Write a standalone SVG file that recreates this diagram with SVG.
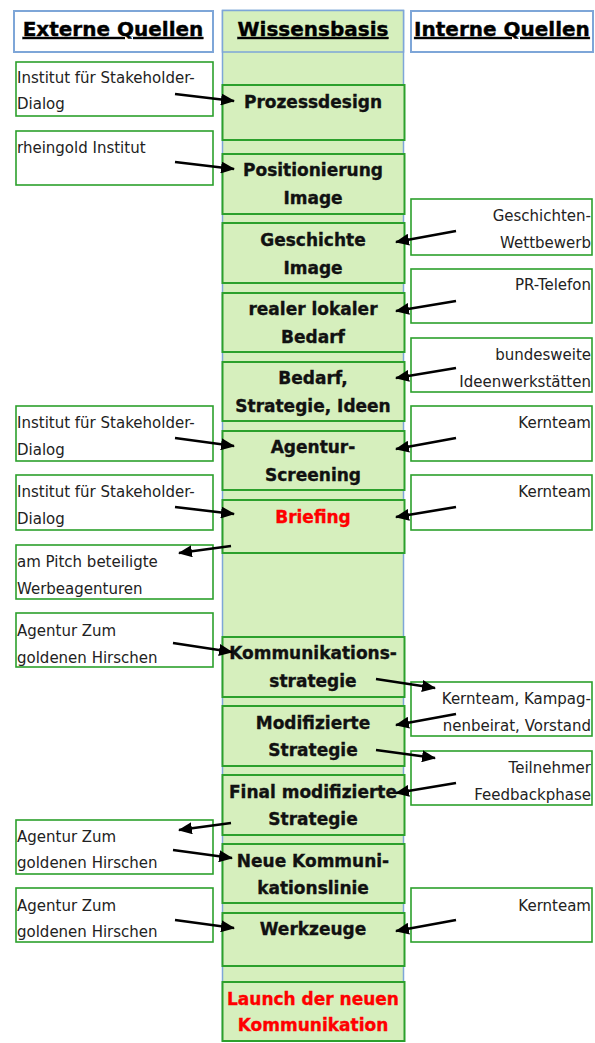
<svg xmlns="http://www.w3.org/2000/svg" width="595" height="1043" viewBox="0 0 595 1043">
<defs>
<style>
.hdr{fill:#fff;stroke:#7ea6d8;stroke-width:2}
.col{fill:#d6efbd;stroke:#7ea6d8;stroke-width:1.5}
.node{fill:#d6efbd;stroke:#2ca02c;stroke-width:2}
.src{fill:#fff;stroke:#2ca02c;stroke-width:1.6}
.ht{font-family:"DejaVu Sans",sans-serif;font-weight:bold;font-size:20px;fill:#000;stroke:#000;stroke-width:0.4;text-anchor:middle;text-decoration:underline}
.nt{font-family:"DejaVu Sans",sans-serif;font-weight:bold;font-size:17px;fill:#111;stroke:#111;stroke-width:0.35;text-anchor:middle}
.nt.red{fill:#ff0000;stroke:#ff0000}
.lt{font-family:"DejaVu Sans",sans-serif;font-size:15px;fill:#222}
.rt{font-family:"DejaVu Sans",sans-serif;font-size:15px;fill:#222;text-anchor:end}
.ar{stroke:#000;stroke-width:2.6;fill:none;marker-end:url(#ah)}
</style>
<marker id="ah" markerWidth="14" markerHeight="12" refX="13" refY="6" orient="auto" markerUnits="userSpaceOnUse">
<path d="M0,0 L14,6 L0,12 z" fill="#000"/>
</marker>
</defs>

<g id="column">
<rect class="col" x="222.5" y="10.5" width="181" height="1030"/>
</g>

<g id="header-extern"><rect class="hdr" x="14" y="11" width="199" height="41"/><text class="ht" x="113" y="36">Externe Quellen</text></g>
<g id="header-wissen"><rect class="col" x="222.5" y="10.5" width="181" height="41.5"/><text class="ht" x="313" y="36">Wissensbasis</text></g>
<g id="header-intern"><rect class="hdr" x="411" y="11" width="182" height="41"/><text class="ht" x="502" y="36">Interne Quellen</text></g>

<g id="n-prozessdesign"><rect class="node" x="222.5" y="85" width="182" height="55"/><text class="nt" x="313" y="108">Prozessdesign</text></g>
<g id="n-positionierung"><rect class="node" x="222.5" y="154" width="182" height="60"/><text class="nt" x="313" y="176">Positionierung</text><text class="nt" x="313" y="204">Image</text></g>
<g id="n-geschichte"><rect class="node" x="222.5" y="223" width="182" height="60"/><text class="nt" x="313" y="246">Geschichte</text><text class="nt" x="313" y="274">Image</text></g>
<g id="n-realer"><rect class="node" x="222.5" y="293" width="182" height="59"/><text class="nt" x="313" y="315">realer lokaler</text><text class="nt" x="313" y="343">Bedarf</text></g>
<g id="n-bedarf"><rect class="node" x="222.5" y="362" width="182" height="59"/><text class="nt" x="313" y="384">Bedarf,</text><text class="nt" x="313" y="412">Strategie, Ideen</text></g>
<g id="n-agentur"><rect class="node" x="222.5" y="431" width="182" height="59"/><text class="nt" x="313" y="453">Agentur-</text><text class="nt" x="313" y="481">Screening</text></g>
<g id="n-briefing"><rect class="node" x="222.5" y="500" width="182" height="53"/><text class="nt red" x="313" y="523">Briefing</text></g>
<g id="n-kommstrat"><rect class="node" x="222.5" y="637" width="182" height="60"/><text class="nt" x="313" y="659">Kommunikations-</text><text class="nt" x="313" y="687">strategie</text></g>
<g id="n-modstrat"><rect class="node" x="222.5" y="706" width="182" height="60"/><text class="nt" x="313" y="729">Modifizierte</text><text class="nt" x="313" y="756">Strategie</text></g>
<g id="n-finalstrat"><rect class="node" x="222.5" y="775" width="182" height="60"/><text class="nt" x="313" y="798">Final modifizierte</text><text class="nt" x="313" y="825">Strategie</text></g>
<g id="n-neue"><rect class="node" x="222.5" y="844" width="182" height="59"/><text class="nt" x="313" y="867">Neue Kommuni-</text><text class="nt" x="313" y="894">kationslinie</text></g>
<g id="n-werkzeuge"><rect class="node" x="222.5" y="913" width="182" height="53"/><text class="nt" x="313" y="935">Werkzeuge</text></g>
<g id="n-launch"><rect class="node" x="222.5" y="982" width="182" height="59"/><text class="nt red" x="313" y="1005">Launch der neuen</text><text class="nt red" x="313" y="1031">Kommunikation</text></g>

<g id="l1"><rect class="src" x="16" y="62" width="197" height="54"/><text class="lt" x="17" y="83">Institut für Stakeholder-</text><text class="lt" x="17" y="109">Dialog</text></g>
<g id="l2"><rect class="src" x="16" y="131" width="197" height="54"/><text class="lt" x="17" y="153">rheingold Institut</text></g>
<g id="l3"><rect class="src" x="16" y="406" width="197" height="55"/><text class="lt" x="17" y="428">Institut für Stakeholder-</text><text class="lt" x="17" y="455">Dialog</text></g>
<g id="l4"><rect class="src" x="16" y="475" width="197" height="55"/><text class="lt" x="17" y="497">Institut für Stakeholder-</text><text class="lt" x="17" y="524">Dialog</text></g>
<g id="l5"><rect class="src" x="16" y="545" width="197" height="54"/><text class="lt" x="17" y="567">am Pitch beteiligte</text><text class="lt" x="17" y="594">Werbeagenturen</text></g>
<g id="l6"><rect class="src" x="16" y="613" width="197" height="54"/><text class="lt" x="17" y="636">Agentur Zum</text><text class="lt" x="17" y="663">goldenen Hirschen</text></g>
<g id="l7"><rect class="src" x="16" y="820" width="197" height="54"/><text class="lt" x="17" y="842">Agentur Zum</text><text class="lt" x="17" y="868">goldenen Hirschen</text></g>
<g id="l8"><rect class="src" x="16" y="888" width="197" height="54"/><text class="lt" x="17" y="911">Agentur Zum</text><text class="lt" x="17" y="937">goldenen Hirschen</text></g>

<g id="r1"><rect class="src" x="411" y="199" width="181" height="56"/><text class="rt" x="591" y="221">Geschichten-</text><text class="rt" x="591" y="248">Wettbewerb</text></g>
<g id="r2"><rect class="src" x="411" y="269" width="181" height="54"/><text class="rt" x="591" y="290">PR-Telefon</text></g>
<g id="r3"><rect class="src" x="411" y="338" width="181" height="54"/><text class="rt" x="591" y="360">bundesweite</text><text class="rt" x="591" y="387">Ideenwerkstätten</text></g>
<g id="r4"><rect class="src" x="411" y="406" width="181" height="55"/><text class="rt" x="591" y="428">Kernteam</text></g>
<g id="r5"><rect class="src" x="411" y="475" width="181" height="55"/><text class="rt" x="591" y="497">Kernteam</text></g>
<g id="r6"><rect class="src" x="411" y="682" width="181" height="54"/><text class="rt" x="591" y="704">Kernteam, Kampag-</text><text class="rt" x="591" y="731">nenbeirat, Vorstand</text></g>
<g id="r7"><rect class="src" x="411" y="751" width="181" height="54"/><text class="rt" x="591" y="773">Teilnehmer</text><text class="rt" x="591" y="800">Feedbackphase</text></g>
<g id="r8"><rect class="src" x="411" y="888" width="181" height="54"/><text class="rt" x="591" y="911">Kernteam</text></g>

<g id="connectors">
<line class="ar" x1="175" y1="94" x2="234" y2="101"/>
<line class="ar" x1="175" y1="162" x2="234" y2="169"/>
<line class="ar" x1="456" y1="231" x2="396" y2="242"/>
<line class="ar" x1="456" y1="301" x2="396" y2="311"/>
<line class="ar" x1="456" y1="368" x2="396" y2="378"/>
<line class="ar" x1="175" y1="438" x2="234" y2="446"/>
<line class="ar" x1="456" y1="438" x2="396" y2="449"/>
<line class="ar" x1="175" y1="507" x2="234" y2="514"/>
<line class="ar" x1="456" y1="507" x2="396" y2="517"/>
<line class="ar" x1="231" y1="546" x2="179" y2="553"/>
<line class="ar" x1="173" y1="643" x2="232" y2="652"/>
<line class="ar" x1="376" y1="679" x2="435" y2="688"/>
<line class="ar" x1="456" y1="714" x2="396" y2="725"/>
<line class="ar" x1="376" y1="750" x2="435" y2="758"/>
<line class="ar" x1="456" y1="783" x2="396" y2="793"/>
<line class="ar" x1="231" y1="823" x2="179" y2="830"/>
<line class="ar" x1="173" y1="850" x2="232" y2="858"/>
<line class="ar" x1="175" y1="920" x2="234" y2="928"/>
<line class="ar" x1="456" y1="920" x2="396" y2="931"/>
</g>
</svg>
